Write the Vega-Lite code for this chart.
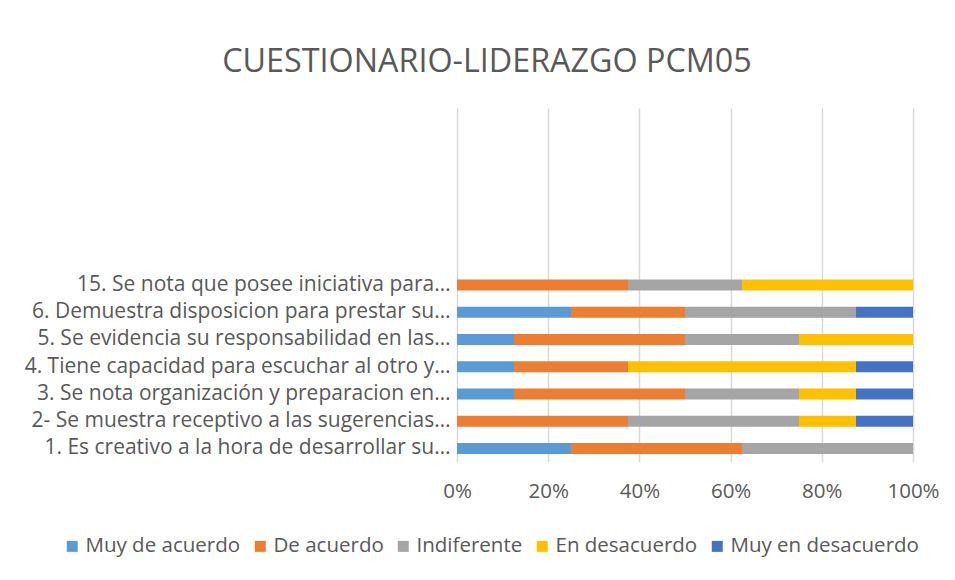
{
  "$schema": "https://vega.github.io/schema/vega-lite/v6.json",
  "width": 456,
  "height": 354,
  "autosize": {"type": "none"},
  "padding": {"left": 457, "top": 108, "right": 42, "bottom": 118},
  "background": "white",
  "title": {
    "text": "CUESTIONARIO-LIDERAZGO PCM05",
    "font": "Open Sans",
    "fontSize": 32.3,
    "fontWeight": "normal",
    "color": "#595959",
    "anchor": "middle",
    "dx": -198,
    "offset": 30
  },
  "data": {
    "values": [
      {"pregunta": "15. Se nota que posee iniciativa para…", "respuesta": "De acuerdo", "orden": 2, "n": 3},
      {"pregunta": "15. Se nota que posee iniciativa para…", "respuesta": "Indiferente", "orden": 3, "n": 2},
      {"pregunta": "15. Se nota que posee iniciativa para…", "respuesta": "En desacuerdo", "orden": 4, "n": 3},
      {"pregunta": "6. Demuestra  disposicion para prestar su…", "respuesta": "Muy de acuerdo", "orden": 1, "n": 2},
      {"pregunta": "6. Demuestra  disposicion para prestar su…", "respuesta": "De acuerdo", "orden": 2, "n": 2},
      {"pregunta": "6. Demuestra  disposicion para prestar su…", "respuesta": "Indiferente", "orden": 3, "n": 3},
      {"pregunta": "6. Demuestra  disposicion para prestar su…", "respuesta": "Muy en desacuerdo", "orden": 5, "n": 1},
      {"pregunta": "5. Se evidencia su responsabilidad en las…", "respuesta": "Muy de acuerdo", "orden": 1, "n": 1},
      {"pregunta": "5. Se evidencia su responsabilidad en las…", "respuesta": "De acuerdo", "orden": 2, "n": 3},
      {"pregunta": "5. Se evidencia su responsabilidad en las…", "respuesta": "Indiferente", "orden": 3, "n": 2},
      {"pregunta": "5. Se evidencia su responsabilidad en las…", "respuesta": "En desacuerdo", "orden": 4, "n": 2},
      {"pregunta": "4. Tiene capacidad para escuchar al otro y…", "respuesta": "Muy de acuerdo", "orden": 1, "n": 1},
      {"pregunta": "4. Tiene capacidad para escuchar al otro y…", "respuesta": "De acuerdo", "orden": 2, "n": 2},
      {"pregunta": "4. Tiene capacidad para escuchar al otro y…", "respuesta": "En desacuerdo", "orden": 4, "n": 4},
      {"pregunta": "4. Tiene capacidad para escuchar al otro y…", "respuesta": "Muy en desacuerdo", "orden": 5, "n": 1},
      {"pregunta": "3. Se nota organización y preparacion en…", "respuesta": "Muy de acuerdo", "orden": 1, "n": 1},
      {"pregunta": "3. Se nota organización y preparacion en…", "respuesta": "De acuerdo", "orden": 2, "n": 3},
      {"pregunta": "3. Se nota organización y preparacion en…", "respuesta": "Indiferente", "orden": 3, "n": 2},
      {"pregunta": "3. Se nota organización y preparacion en…", "respuesta": "En desacuerdo", "orden": 4, "n": 1},
      {"pregunta": "3. Se nota organización y preparacion en…", "respuesta": "Muy en desacuerdo", "orden": 5, "n": 1},
      {"pregunta": "2- Se muestra receptivo a las sugerencias…", "respuesta": "De acuerdo", "orden": 2, "n": 3},
      {"pregunta": "2- Se muestra receptivo a las sugerencias…", "respuesta": "Indiferente", "orden": 3, "n": 3},
      {"pregunta": "2- Se muestra receptivo a las sugerencias…", "respuesta": "En desacuerdo", "orden": 4, "n": 1},
      {"pregunta": "2- Se muestra receptivo a las sugerencias…", "respuesta": "Muy en desacuerdo", "orden": 5, "n": 1},
      {"pregunta": "1. Es creativo a la hora de desarrollar su…", "respuesta": "Muy de acuerdo", "orden": 1, "n": 2},
      {"pregunta": "1. Es creativo a la hora de desarrollar su…", "respuesta": "De acuerdo", "orden": 2, "n": 3},
      {"pregunta": "1. Es creativo a la hora de desarrollar su…", "respuesta": "Indiferente", "orden": 3, "n": 3}
    ]
  },
  "mark": {"type": "bar", "size": 11},
  "encoding": {
    "y": {
      "field": "pregunta",
      "type": "nominal",
      "scale": {
        "domain": ["_1", "_2", "_3", "_4", "_5", "_6",
          "15. Se nota que posee iniciativa para…",
          "6. Demuestra  disposicion para prestar su…",
          "5. Se evidencia su responsabilidad en las…",
          "4. Tiene capacidad para escuchar al otro y…",
          "3. Se nota organización y preparacion en…",
          "2- Se muestra receptivo a las sugerencias…",
          "1. Es creativo a la hora de desarrollar su…"],
        "paddingInner": 0, "paddingOuter": 0
      },
      "axis": {
        "title": null,
        "domain": false,
        "ticks": false,
        "labelExpr": "slice(datum.label,0,1)=='_' ? '' : datum.label",
        "labelFont": "Open Sans",
        "labelFontSize": 21,
        "labelColor": "#595959",
        "labelPadding": 7,
        "labelLimit": 600
      }
    },
    "x": {
      "field": "n",
      "type": "quantitative",
      "aggregate": "sum",
      "stack": "normalize",
      "scale": {"domain": [0, 1], "nice": false},
      "axis": {
        "title": null,
        "format": ".0%",
        "values": [0, 0.2, 0.4, 0.6, 0.8, 1],
        "domain": false,
        "ticks": false,
        "grid": true,
        "gridColor": "#d9d9d9",
        "gridWidth": 1.5,
        "labelFont": "Open Sans",
        "labelFontSize": 20.5,
        "labelColor": "#595959",
        "labelPadding": 19,
        "labelFlush": false
      }
    },
    "color": {
      "field": "respuesta",
      "type": "nominal",
      "scale": {
        "domain": ["Muy de acuerdo", "De acuerdo", "Indiferente", "En desacuerdo", "Muy en desacuerdo"],
        "range": ["#5B9BD5", "#ED7D31", "#A5A5A5", "#FFC000", "#4472C4"]
      },
      "legend": {
        "title": null,
        "orient": "none",
        "direction": "horizontal",
        "legendX": -395,
        "legendY": 428,
        "symbolType": "square",
        "symbolSize": 121,
        "symbolStrokeWidth": 0,
        "labelFont": "Open Sans",
        "labelFontSize": 20.5,
        "labelColor": "#595959",
        "labelOffset": 3,
        "labelLimit": 400,
        "columnPadding": 9
      }
    },
    "order": {"field": "orden", "type": "quantitative", "aggregate": "min"}
  },
  "config": {"view": {"stroke": null}}
}
